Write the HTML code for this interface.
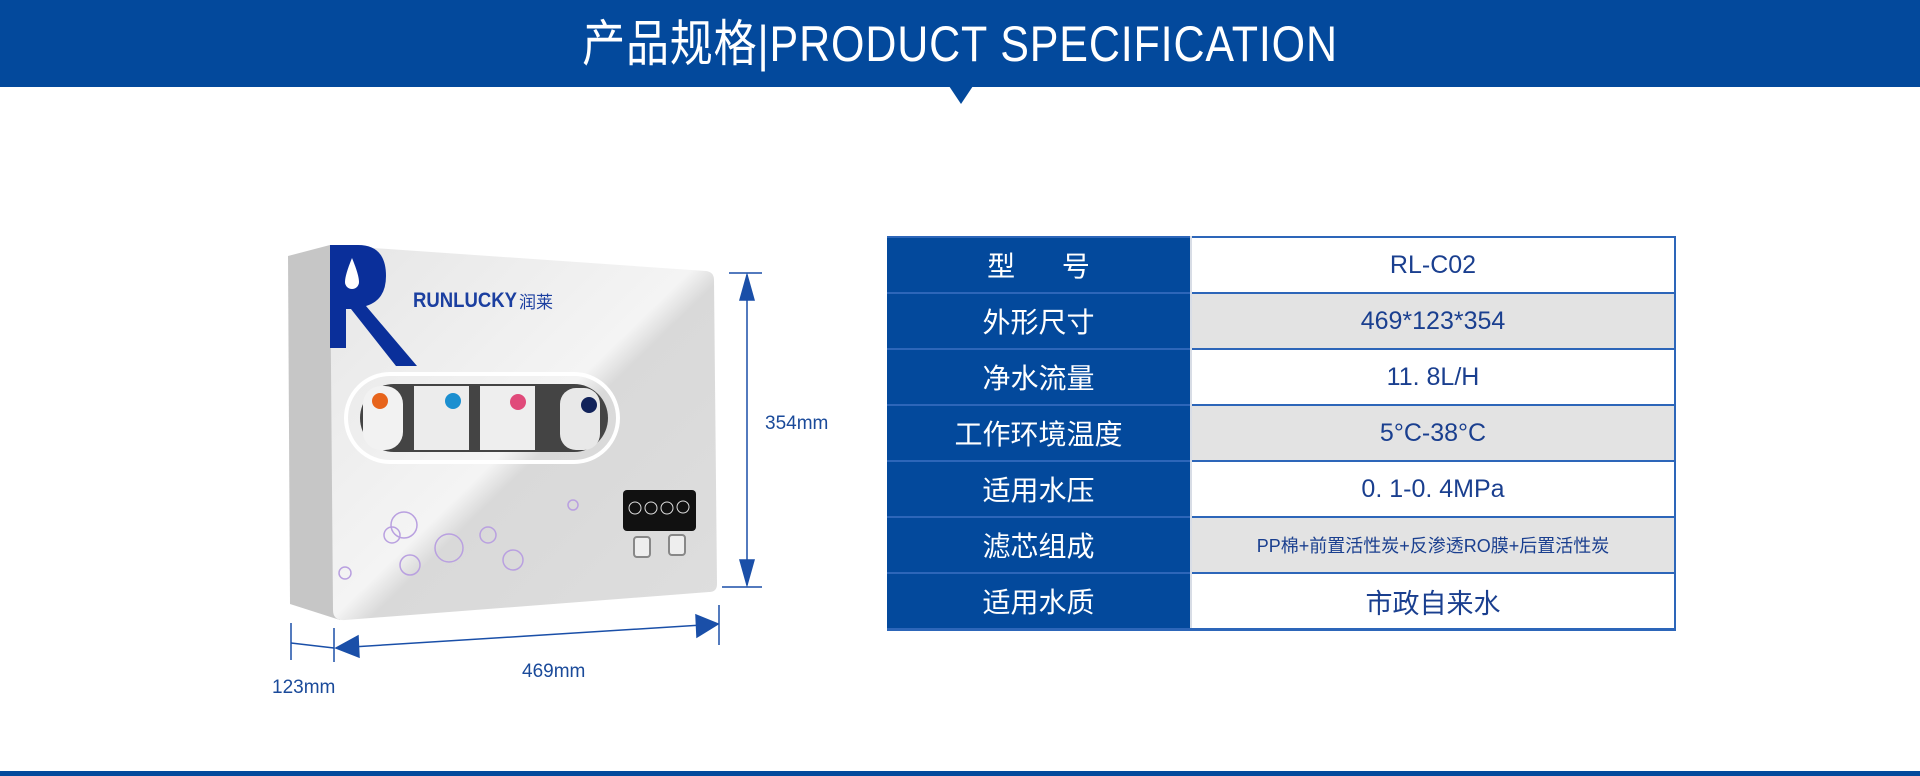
<!DOCTYPE html>
<html><head><meta charset="utf-8"><style>
body{margin:0;width:1920px;height:776px;background:#fff;position:relative;overflow:hidden;font-family:"Liberation Sans","Noto Sans CJK SC",sans-serif}
.hdr{position:absolute;left:0;top:0;width:1920px;height:87px;background:#03499c}
.hdr div{position:absolute;left:0;right:0;top:12px;text-align:center;color:#fff;font-size:50px;line-height:64px;transform:scaleX(0.86);letter-spacing:1px;font-family:"Liberation Sans","Noto Sans CJK SC",sans-serif}
.tri{position:absolute;left:949px;top:86px;width:0;height:0;border-left:12px solid transparent;border-right:12px solid transparent;border-top:18px solid #03499c}
.bot{position:absolute;left:0;top:771px;width:1920px;height:5px;background:#03499c}
table{position:absolute;left:887px;top:236px;width:789px;border-collapse:collapse}
td{height:54px;border-top:2px solid #2d66b9;border-bottom:1px solid #c8d3e3;padding:0;text-align:center}
td.l{width:303px;background:#03499c;color:#fff;font-size:28px;border-right:2px solid #d8dde6}
td.r{color:#1a3f8f;font-size:25px;border-right:2px solid #2d66b9}
tr.g td.r{background:#e3e3e3}
.lab{position:absolute;color:#1a4a9a;font-size:19px}
</style></head><body>
<div class="hdr"><div>产品规格|PRODUCT SPECIFICATION</div></div>
<div class="tri"></div>
<svg width="1920" height="776" style="position:absolute;left:0;top:0">
<defs><linearGradient id="fg" x1="0" y1="0" x2="1" y2="1"><stop offset="0" stop-color="#e6e6e6"/><stop offset="0.5" stop-color="#f4f4f4"/><stop offset="0.55" stop-color="#d9d9d9"/><stop offset="1" stop-color="#dedede"/></linearGradient></defs>
<polygon points="288,256 330,245 340,620 290,604" fill="#c6c6c6"/>
<path d="M330 245 L706 271 Q714 272 714 280 L717 584 Q717 592 709 592 L345 620 Q333 621 333 610 Z" fill="url(#fg)"/>
<path d="M330 245 L358 245 Q386 245 386 276 Q386 300 366 306 L417 366 L396 366 L351 309 L346 309 L346 348 L330 348 Z" fill="#0a2f9a"/>
<path d="M352 258 Q345 275 345 282 A7 7 0 0 0 359 282 Q359 275 352 258Z" fill="#fff"/>
<text x="413" y="307" font-size="21" font-weight="bold" fill="#1b3fa0" font-family="Liberation Sans,sans-serif" textLength="104" lengthAdjust="spacingAndGlyphs">RUNLUCKY</text>
<text x="519" y="308" font-size="17" fill="#1b3fa0" font-family="Noto Sans CJK SC,sans-serif">润莱</text>
<rect x="346" y="374" width="272" height="88" rx="44" fill="none" stroke="#fff" stroke-width="4"/>
<rect x="360" y="384" width="248" height="68" rx="34" fill="#444"/>
<rect x="363" y="386" width="40" height="64" rx="18" fill="#f2f2f2"/>
<rect x="414" y="386" width="55" height="64" fill="#ececec"/>
<rect x="480" y="386" width="55" height="64" fill="#eee"/>
<rect x="560" y="388" width="40" height="62" rx="16" fill="#e8e8e8"/>
<circle cx="380" cy="401" r="8" fill="#e7641c"/><circle cx="453" cy="401" r="8" fill="#1b8fd0"/><circle cx="518" cy="402" r="8" fill="#e04a7a"/><circle cx="589" cy="405" r="8" fill="#12235a"/>
<rect x="623" y="490" width="73" height="41" rx="4" fill="#111"/>
<circle cx="635" cy="508" r="6" fill="none" stroke="#ddd"/><circle cx="651" cy="508" r="6" fill="none" stroke="#ddd"/><circle cx="667" cy="508" r="6" fill="none" stroke="#ddd"/><circle cx="683" cy="507" r="6" fill="none" stroke="#ddd"/>
<rect x="634" y="537" width="16" height="20" rx="3" fill="#eee" stroke="#888" stroke-width="2"/>
<rect x="669" y="535" width="16" height="20" rx="3" fill="#eee" stroke="#888" stroke-width="2"/>
<g fill="none" stroke="#b9a0e0" stroke-width="1.5"><circle cx="404" cy="525" r="13"/><circle cx="392" cy="535" r="8"/><circle cx="449" cy="548" r="14"/><circle cx="410" cy="565" r="10"/><circle cx="488" cy="535" r="8"/><circle cx="513" cy="560" r="10"/><circle cx="345" cy="573" r="6"/><circle cx="573" cy="505" r="5"/></g>
<g stroke="#1a4fa8" stroke-width="1.5" fill="#1a4fa8">
<line x1="729" y1="273" x2="762" y2="273"/><line x1="722" y1="587" x2="762" y2="587"/>
<line x1="747" y1="275" x2="747" y2="585"/>
<polygon points="747,275 740,300 754,300"/><polygon points="747,585 740,560 754,560"/>
<line x1="719" y1="605" x2="719" y2="645"/><line x1="334" y1="628" x2="334" y2="662"/><line x1="291" y1="623" x2="291" y2="660"/><line x1="291" y1="643" x2="334" y2="648"/>
<line x1="336" y1="648" x2="718" y2="624"/>
<polygon points="336,648 358,636 359,657"/><polygon points="718,624 696,615 697,637"/>
</g>
</svg>
<div class="lab" style="left:765px;top:413px">354mm</div>
<div class="lab" style="left:522px;top:661px">469mm</div>
<div class="lab" style="left:272px;top:677px">123mm</div>
<table>
<tr><td class="l">型&nbsp;&nbsp;&nbsp;&nbsp;&nbsp;&nbsp;号</td><td class="r">RL-C02</td></tr>
<tr class="g"><td class="l">外形尺寸</td><td class="r">469*123*354</td></tr>
<tr><td class="l">净水流量</td><td class="r">11. 8L/H</td></tr>
<tr class="g"><td class="l">工作环境温度</td><td class="r">5°C-38°C</td></tr>
<tr><td class="l">适用水压</td><td class="r">0. 1-0. 4MPa</td></tr>
<tr class="g"><td class="l">滤芯组成</td><td class="r" style="font-size:18px">PP棉+前置活性炭+反渗透RO膜+后置活性炭</td></tr>
<tr><td class="l" style="border-bottom:3px solid #2d66b9">适用水质</td><td class="r" style="font-size:27px;border-bottom:3px solid #2d66b9">市政自来水</td></tr>
</table>
<div class="bot"></div>
</body></html>
